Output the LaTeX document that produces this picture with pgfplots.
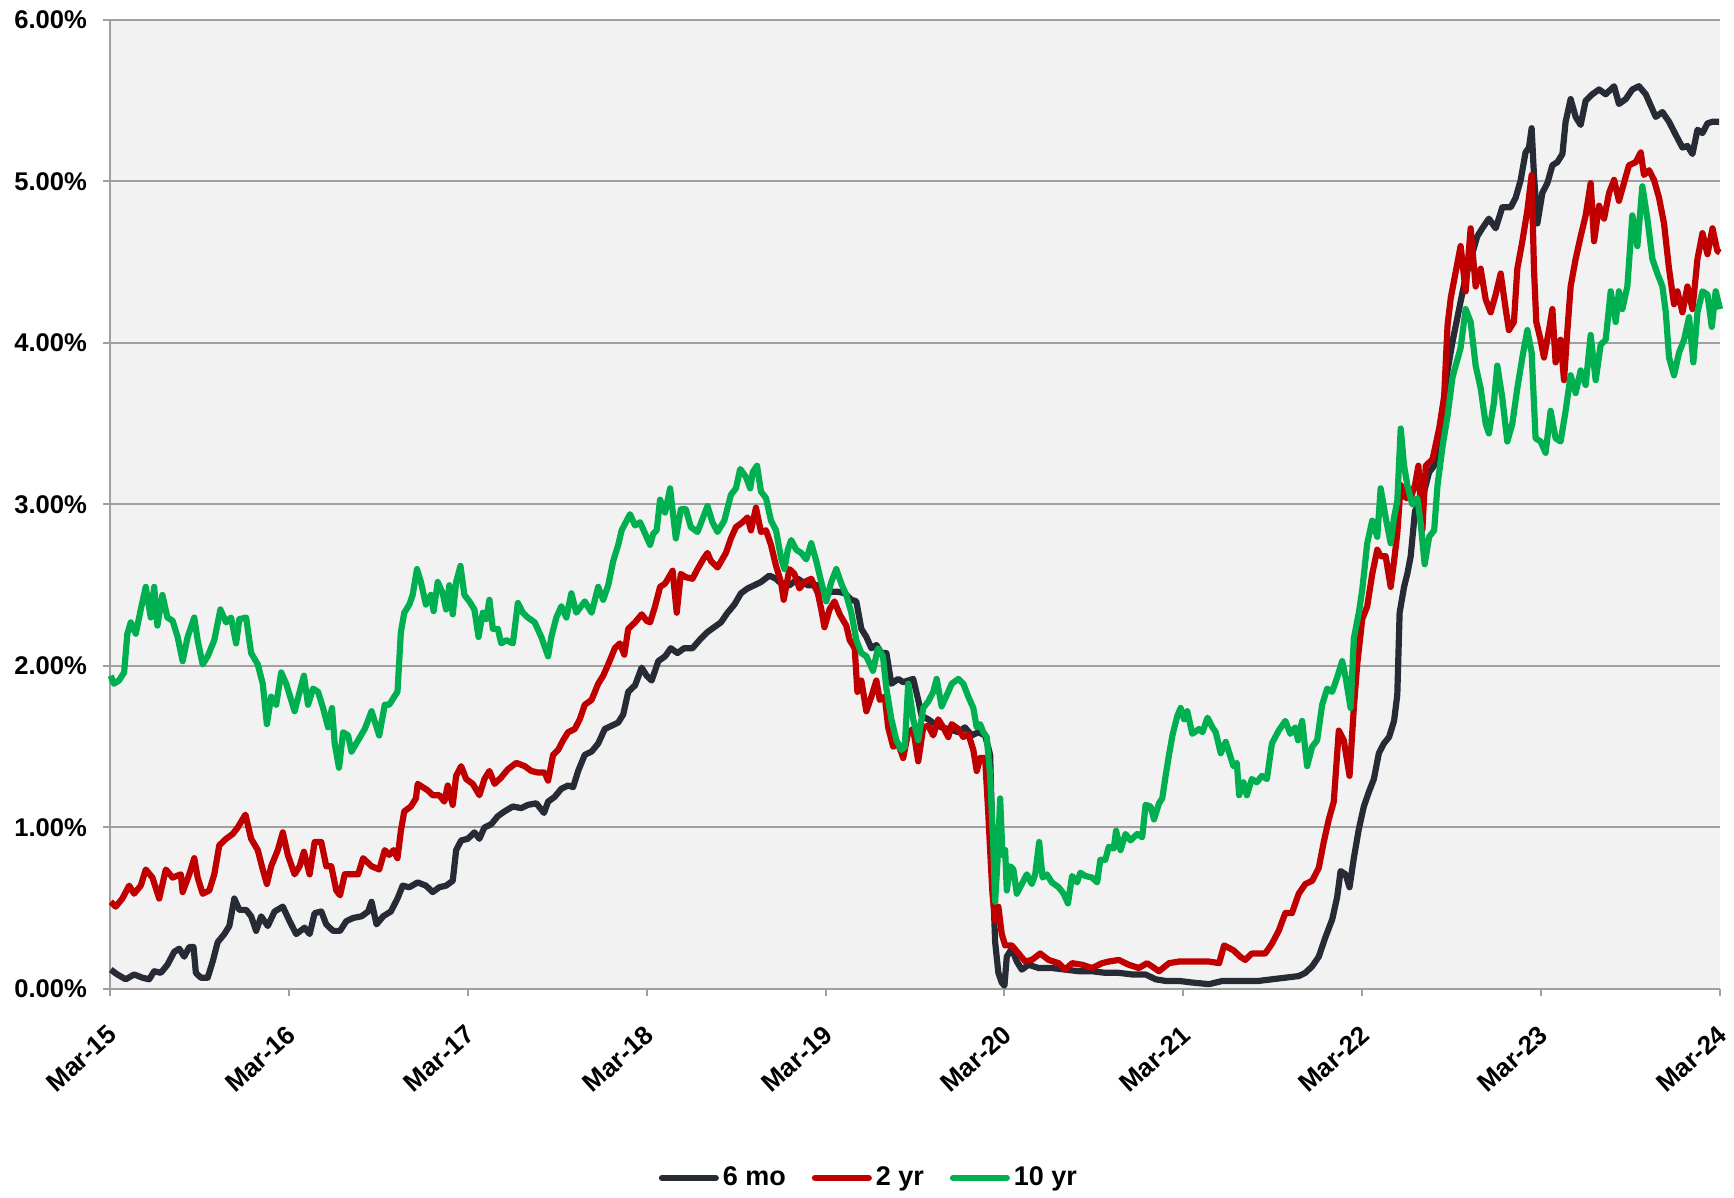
\documentclass[border=0pt]{standalone}
\usepackage{fontspec}
\setmainfont{Liberation Sans}
\usepackage{pgfplots}
\pgfplotsset{compat=1.18}

\definecolor{sixmo}{RGB}{38,43,54}
\definecolor{twoyr}{RGB}{192,0,0}
\definecolor{tenyr}{RGB}{0,176,80}
\definecolor{plotbg}{RGB}{242,242,242}
\definecolor{gridc}{RGB}{160,160,160}

\begin{document}
\begin{tikzpicture}
\begin{axis}[
    name=ax,
    scale only axis,
    width=805pt, height=484.5pt,
    xmin=0, xmax=9, ymin=0, ymax=6,
    axis background/.style={fill=plotbg},
    axis x line*=bottom, axis y line*=left,
    axis line style={draw=gridc, line width=1pt, -},
    xtick={0,...,9},
    xticklabels={Mar-15,Mar-16,Mar-17,Mar-18,Mar-19,Mar-20,Mar-21,Mar-22,Mar-23,Mar-24},
    ytick={0,...,6},
    yticklabels={0.00\%,1.00\%,2.00\%,3.00\%,4.00\%,5.00\%,6.00\%},
    tick align=outside,
    major tick length=3.5pt,
    tick style={draw=gridc, line width=1pt},
    ymajorgrids,
    grid style={draw=gridc, line width=1pt},
    y tick label style={font=\fontsize{12.8}{15}\selectfont\bfseries, xshift=-4.5pt},
    x tick label style={font=\fontsize{13}{15}\selectfont\bfseries, overlay,
        rotate=42, anchor=north east, inner sep=1pt, xshift=-9.5pt, yshift=-8pt},
    clip=false,
    legend style={at={(0.472,-0.195)}, anchor=center, draw=none, fill=none,
        legend columns=3, font=\fontsize{13.5}{16}\selectfont\bfseries,
        /tikz/every even column/.append style={column sep=11pt}},
    legend image code/.code={\draw[#1, line width=3pt, line cap=round] (0pt,0pt) -- (27pt,0pt);},
    every axis plot/.append style={line width=3.1pt, line join=round},
]

% 6 mo
\addplot[sixmo] coordinates {
(0.004,0.12)(0.041,0.09)(0.088,0.06)(0.135,0.09)(0.181,0.07)(0.219,0.06)(0.247,0.11)(0.284,0.10)
(0.321,0.15)(0.359,0.23)(0.387,0.25)(0.415,0.20)(0.443,0.26)(0.467,0.26)(0.480,0.10)(0.508,0.07)
(0.546,0.07)(0.574,0.17)(0.602,0.29)(0.639,0.34)(0.667,0.39)(0.695,0.56)(0.723,0.49)(0.761,0.49)
(0.789,0.45)(0.817,0.36)(0.845,0.45)(0.882,0.39)(0.920,0.48)(0.966,0.51)(1.004,0.42)(1.041,0.34)
(1.088,0.38)(1.116,0.34)(1.144,0.47)(1.181,0.48)(1.209,0.40)(1.247,0.36)(1.286,0.36)(1.321,0.42)
(1.359,0.44)(1.406,0.45)(1.443,0.48)(1.462,0.54)(1.490,0.40)(1.527,0.45)
(1.570,0.48)(1.607,0.56)(1.636,0.64)(1.673,0.63)(1.720,0.66)(1.766,0.64)(1.804,0.60)(1.841,0.63)
(1.879,0.64)(1.916,0.67)(1.935,0.86)(1.963,0.92)(2.000,0.93)(2.037,0.97)(2.065,0.93)(2.093,1.00)
(2.131,1.02)(2.168,1.07)(2.206,1.10)(2.252,1.13)(2.299,1.12)(2.336,1.14)(2.383,1.15)(2.426,1.09)
(2.449,1.16)(2.486,1.19)(2.523,1.24)(2.561,1.26)(2.589,1.25)(2.617,1.35)(2.654,1.45)(2.692,1.47)
(2.729,1.52)(2.766,1.61)(2.804,1.63)(2.841,1.65)(2.869,1.70)(2.897,1.84)(2.935,1.88)(2.972,1.99)
(3.000,1.94)(3.028,1.91)(3.065,2.03)(3.103,2.06)
(3.135,2.11)(3.172,2.08)(3.209,2.11)(3.256,2.11)(3.303,2.17)(3.340,2.21)(3.377,2.24)(3.415,2.27)
(3.452,2.33)(3.490,2.38)(3.527,2.45)(3.564,2.48)(3.602,2.50)(3.639,2.52)(3.686,2.56)(3.723,2.54)
(3.761,2.50)(3.798,2.50)(3.845,2.54)(3.901,2.50)(3.957,2.50)(3.994,2.44)(4.032,2.46)(4.069,2.46)
(4.107,2.45)(4.144,2.41)(4.172,2.40)(4.200,2.23)(4.228,2.18)(4.256,2.11)(4.284,2.13)(4.312,2.08)
(4.340,2.08)(4.368,1.89)(4.406,1.92)(4.434,1.90)(4.462,1.91)(4.490,1.92)(4.518,1.79)(4.537,1.69)
(4.574,1.67)(4.611,1.64)(4.649,1.62)(4.686,1.61)
(4.742,1.59)(4.779,1.62)(4.817,1.57)(4.854,1.59)(4.892,1.57)(4.920,1.45)(4.929,1.08)(4.938,0.59)
(4.948,0.29)(4.966,0.10)(4.985,0.04)(5.000,0.02)(5.013,0.20)(5.041,0.25)(5.069,0.17)(5.097,0.12)
(5.135,0.15)(5.191,0.13)(5.265,0.13)(5.340,0.12)(5.415,0.11)(5.490,0.11)(5.564,0.10)(5.639,0.10)
(5.714,0.09)(5.789,0.09)(5.845,0.06)(5.901,0.05)(5.976,0.05)(6.050,0.04)(6.144,0.03)(6.219,0.05)
(6.280,0.05)(6.327,0.05)(6.421,0.05)(6.495,0.06)(6.570,0.07)(6.645,0.08)(6.682,0.10)(6.720,0.14)
(6.757,0.20)(6.794,0.32)(6.832,0.43)(6.860,0.57)(6.879,0.73)(6.907,0.71)(6.929,0.63)(6.953,0.81)
(6.981,0.99)(7.009,1.13)(7.037,1.22)(7.065,1.30)(7.093,1.46)(7.121,1.52)(7.150,1.56)(7.178,1.66)
(7.196,1.82)(7.209,2.33)(7.234,2.49)(7.252,2.57)(7.271,2.68)(7.295,2.96)(7.318,3.00)(7.346,3.08)
(7.374,3.20)(7.402,3.24)(7.430,3.43)(7.458,3.59)(7.477,3.83)(7.505,4.01)
(7.578,4.41)(7.643,4.66)(7.671,4.71)(7.708,4.77)(7.746,4.71)(7.783,4.84)(7.830,4.84)(7.858,4.90)
(7.886,5.01)(7.913,5.18)(7.932,5.21)(7.947,5.33)(7.960,5.04)(7.979,4.74)(8.007,4.93)(8.035,4.99)
(8.063,5.10)(8.091,5.12)(8.119,5.17)(8.137,5.37)(8.165,5.51)(8.193,5.40)(8.221,5.35)(8.249,5.50)
(8.286,5.54)(8.324,5.57)(8.361,5.54)(8.408,5.59)(8.435,5.48)(8.473,5.51)(8.510,5.57)(8.547,5.59)
(8.585,5.54)(8.613,5.47)(8.641,5.40)(8.678,5.43)(8.715,5.37)(8.752,5.29)(8.790,5.21)(8.818,5.22)
(8.846,5.17)(8.874,5.32)(8.902,5.30)(8.930,5.36)(8.958,5.37)(8.995,5.37)
};
\addlegendentry{6 mo}

% 2 yr
\addplot[twoyr] coordinates {
(0.004,0.54)(0.032,0.51)(0.069,0.56)(0.107,0.64)(0.135,0.59)(0.172,0.64)(0.200,0.74)(0.237,0.69)
(0.275,0.56)(0.312,0.74)(0.350,0.69)(0.396,0.71)(0.406,0.60)(0.443,0.71)(0.471,0.81)(0.490,0.69)
(0.518,0.59)(0.555,0.61)(0.583,0.71)(0.611,0.89)(0.649,0.93)(0.686,0.96)(0.714,1.00)(0.757,1.08)
(0.789,0.93)(0.826,0.86)(0.854,0.74)(0.877,0.65)(0.901,0.76)(0.938,0.86)(0.966,0.97)(0.994,0.83)
(1.032,0.71)(1.060,0.76)(1.084,0.85)(1.116,0.71)(1.144,0.91)(1.181,0.91)(1.209,0.76)(1.237,0.76)
(1.265,0.61)(1.286,0.58)(1.312,0.71)(1.350,0.71)(1.387,0.71)(1.415,0.81)(1.462,0.76)(1.505,0.74)
(1.536,0.86)
(1.561,0.83)(1.585,0.86)(1.607,0.81)(1.626,0.98)(1.645,1.10)(1.682,1.13)(1.710,1.18)(1.720,1.27)
(1.748,1.25)(1.776,1.23)(1.804,1.20)(1.841,1.20)(1.869,1.16)(1.888,1.26)(1.916,1.14)(1.935,1.32)
(1.963,1.38)(1.991,1.30)(2.028,1.27)(2.065,1.20)(2.093,1.30)(2.121,1.35)(2.150,1.27)(2.187,1.31)
(2.224,1.36)(2.271,1.40)(2.318,1.38)(2.355,1.35)(2.393,1.34)(2.430,1.34)(2.449,1.29)(2.477,1.45)
(2.505,1.48)(2.533,1.54)(2.561,1.59)(2.598,1.61)(2.626,1.67)(2.654,1.76)(2.692,1.79)(2.729,1.89)
(2.757,1.94)(2.785,2.01)(2.822,2.11)(2.850,2.14)(2.875,2.07)(2.897,2.23)(2.935,2.27)(2.972,2.32)
(3.000,2.28)(3.019,2.27)(3.047,2.37)(3.075,2.49)(3.103,2.51)
(3.135,2.57)(3.145,2.59)(3.168,2.33)(3.191,2.57)(3.219,2.55)(3.256,2.54)(3.284,2.60)(3.321,2.67)
(3.340,2.70)(3.359,2.65)(3.396,2.61)(3.443,2.70)(3.471,2.79)(3.499,2.86)(3.536,2.89)(3.564,2.92)
(3.583,2.84)(3.611,2.98)(3.639,2.83)(3.667,2.84)(3.695,2.75)(3.723,2.62)(3.751,2.52)(3.766,2.41)
(3.798,2.60)(3.826,2.57)(3.854,2.48)(3.882,2.52)(3.920,2.54)(3.957,2.45)(3.976,2.35)(3.994,2.24)
(4.022,2.35)(4.050,2.40)(4.079,2.32)(4.116,2.25)(4.135,2.16)(4.163,2.11)(4.178,1.84)(4.200,1.91)
(4.228,1.72)(4.256,1.81)(4.284,1.91)(4.303,1.79)(4.331,1.81)(4.350,1.62)(4.378,1.50)(4.406,1.52)
(4.434,1.43)(4.462,1.59)(4.490,1.61)(4.518,1.41)(4.546,1.62)(4.574,1.63)(4.602,1.57)(4.630,1.67)
(4.658,1.62)(4.686,1.56)
(4.705,1.64)(4.742,1.61)(4.770,1.56)(4.798,1.58)(4.826,1.48)(4.845,1.35)(4.864,1.43)(4.892,1.43)
(4.910,1.08)(4.920,0.86)(4.933,0.59)(4.948,0.42)(4.966,0.51)(4.985,0.34)(5.004,0.27)(5.041,0.27)
(5.079,0.22)(5.116,0.17)(5.153,0.18)(5.200,0.22)(5.247,0.18)(5.303,0.16)(5.340,0.12)(5.378,0.16)
(5.434,0.15)(5.490,0.13)(5.546,0.16)(5.583,0.17)(5.639,0.18)(5.695,0.15)(5.751,0.13)(5.798,0.16)
(5.864,0.11)(5.920,0.16)(5.976,0.17)(6.032,0.17)(6.088,0.17)(6.144,0.17)(6.200,0.16)(6.228,0.27)
(6.280,0.24)(6.318,0.20)(6.346,0.18)(6.383,0.22)(6.421,0.22)(6.458,0.22)(6.495,0.28)(6.533,0.36)
(6.570,0.47)(6.607,0.47)(6.645,0.59)(6.682,0.65)(6.720,0.67)(6.757,0.75)(6.785,0.91)(6.813,1.05)
(6.841,1.16)(6.869,1.60)(6.897,1.54)(6.929,1.32)(6.953,1.74)(6.972,2.01)(7.000,2.29)(7.028,2.37)
(7.056,2.57)(7.084,2.72)(7.103,2.68)(7.131,2.68)(7.159,2.49)(7.178,2.65)(7.196,2.82)(7.215,3.12)
(7.243,3.04)(7.271,3.04)(7.295,3.12)(7.314,3.24)(7.336,2.84)(7.355,3.24)(7.393,3.28)(7.430,3.47)
(7.458,3.67)(7.477,4.11)(7.495,4.28)
(7.550,4.60)(7.578,4.32)(7.606,4.71)(7.634,4.35)(7.662,4.46)(7.690,4.27)(7.718,4.19)(7.746,4.30)
(7.774,4.43)(7.802,4.21)(7.820,4.08)(7.848,4.13)(7.867,4.46)(7.895,4.63)(7.923,4.82)(7.947,5.04)
(7.960,4.46)(7.973,4.13)(7.997,4.02)(8.016,3.91)(8.044,4.08)(8.063,4.21)(8.081,3.88)(8.109,4.02)
(8.128,3.77)(8.147,4.08)(8.165,4.35)(8.193,4.52)(8.221,4.66)(8.249,4.79)(8.277,4.99)(8.296,4.63)
(8.324,4.85)(8.352,4.77)(8.380,4.93)(8.408,5.01)(8.435,4.88)(8.463,4.99)(8.491,5.10)(8.529,5.12)
(8.557,5.18)(8.575,5.04)(8.603,5.07)(8.631,5.01)(8.659,4.90)(8.687,4.74)(8.715,4.46)(8.743,4.24)
(8.762,4.32)(8.790,4.19)(8.818,4.35)(8.846,4.21)(8.874,4.52)(8.902,4.68)(8.930,4.55)(8.958,4.71)
(8.985,4.57)(9.000,4.56)
};
\addlegendentry{2 yr}

% 10 yr
\addplot[tenyr] coordinates {
(0.004,1.94)(0.022,1.89)(0.050,1.91)(0.079,1.96)(0.097,2.20)(0.116,2.27)(0.144,2.20)(0.172,2.35)
(0.200,2.49)(0.228,2.30)(0.247,2.49)(0.265,2.25)(0.293,2.44)(0.321,2.30)(0.350,2.28)(0.378,2.18)
(0.406,2.03)(0.434,2.18)(0.471,2.30)(0.490,2.16)(0.518,2.01)(0.546,2.06)(0.583,2.16)(0.617,2.35)
(0.649,2.27)(0.677,2.30)(0.705,2.14)(0.723,2.29)(0.761,2.30)(0.789,2.08)(0.826,2.01)(0.854,1.89)
(0.877,1.64)(0.901,1.81)(0.929,1.76)(0.957,1.96)(0.985,1.89)(1.032,1.72)(1.060,1.84)(1.084,1.94)
(1.107,1.76)(1.135,1.86)(1.163,1.84)(1.191,1.74)(1.219,1.62)(1.241,1.74)(1.256,1.52)(1.280,1.37)
(1.303,1.59)(1.331,1.57)(1.350,1.47)(1.387,1.54)(1.424,1.61)(1.462,1.72)(1.505,1.57)(1.536,1.76)
(1.561,1.76)(1.589,1.81)(1.607,1.84)(1.626,2.21)(1.645,2.33)(1.673,2.38)(1.692,2.44)(1.716,2.60)
(1.738,2.52)(1.766,2.38)(1.794,2.44)(1.809,2.34)(1.832,2.52)(1.860,2.45)(1.879,2.35)(1.897,2.50)
(1.916,2.32)(1.935,2.52)(1.959,2.62)(1.981,2.44)(2.009,2.40)(2.037,2.35)(2.060,2.18)(2.084,2.33)
(2.103,2.29)(2.121,2.41)(2.140,2.23)(2.168,2.23)(2.187,2.14)(2.215,2.16)(2.252,2.14)(2.280,2.39)
(2.308,2.33)(2.336,2.30)(2.374,2.27)(2.411,2.18)(2.449,2.06)(2.467,2.18)(2.495,2.30)(2.523,2.37)
(2.551,2.30)(2.579,2.45)(2.607,2.33)(2.654,2.40)(2.692,2.33)(2.729,2.49)(2.757,2.41)(2.785,2.50)
(2.813,2.65)(2.841,2.75)(2.860,2.84)(2.907,2.94)(2.935,2.87)(2.963,2.89)(2.991,2.82)(3.019,2.75)
(3.037,2.82)(3.056,2.84)(3.075,3.03)(3.103,2.95)
(3.131,3.10)(3.163,2.79)(3.191,2.97)(3.219,2.97)(3.247,2.86)(3.284,2.83)(3.340,2.99)(3.368,2.89)
(3.396,2.83)(3.434,2.90)(3.471,3.06)(3.499,3.10)(3.523,3.22)(3.555,3.17)(3.579,3.10)(3.593,3.20)
(3.617,3.24)(3.639,3.08)(3.667,3.04)(3.695,2.90)(3.723,2.84)(3.751,2.67)(3.770,2.60)(3.789,2.72)
(3.808,2.78)(3.836,2.72)(3.864,2.70)(3.892,2.66)(3.920,2.76)(3.948,2.65)(3.976,2.52)(4.004,2.40)
(4.032,2.52)(4.060,2.60)(4.088,2.51)(4.116,2.44)(4.144,2.33)(4.172,2.16)(4.200,2.08)(4.228,2.06)
(4.265,1.97)(4.293,2.11)(4.321,2.06)(4.340,1.86)(4.368,1.67)(4.396,1.54)(4.424,1.48)(4.443,1.50)
(4.462,1.89)(4.490,1.67)(4.518,1.54)(4.546,1.74)(4.574,1.78)(4.602,1.84)(4.621,1.92)(4.649,1.75)
(4.686,1.84)
(4.705,1.89)(4.742,1.92)(4.770,1.89)(4.798,1.81)(4.826,1.74)(4.845,1.62)(4.864,1.64)(4.882,1.59)
(4.901,1.56)(4.920,1.32)(4.938,0.88)(4.948,0.54)(4.963,0.83)(4.976,1.18)(4.989,0.83)(5.004,0.86)
(5.013,0.61)(5.032,0.76)(5.050,0.74)(5.069,0.59)(5.097,0.65)(5.125,0.71)(5.153,0.65)(5.172,0.71)
(5.194,0.91)(5.213,0.69)(5.237,0.71)(5.265,0.66)(5.303,0.63)(5.331,0.59)(5.355,0.53)(5.378,0.70)
(5.406,0.66)(5.424,0.72)(5.452,0.70)(5.490,0.69)(5.518,0.66)(5.536,0.80)(5.564,0.80)(5.583,0.88)
(5.611,0.87)(5.624,0.98)(5.649,0.86)(5.677,0.96)(5.705,0.92)(5.742,0.96)(5.770,0.94)(5.789,1.14)
(5.817,1.13)(5.836,1.05)(5.864,1.15)(5.882,1.18)(5.901,1.32)(5.920,1.45)(5.939,1.57)(5.966,1.69)
(5.985,1.74)(6.004,1.67)(6.022,1.72)(6.050,1.58)(6.088,1.61)(6.107,1.59)(6.135,1.68)(6.163,1.62)
(6.181,1.59)(6.209,1.46)(6.237,1.53)
(6.280,1.38)(6.299,1.40)(6.312,1.20)(6.336,1.28)(6.355,1.20)(6.383,1.30)(6.411,1.28)(6.439,1.32)
(6.467,1.30)(6.495,1.52)(6.533,1.60)(6.570,1.66)(6.598,1.58)(6.626,1.62)(6.641,1.54)(6.664,1.66)
(6.692,1.38)(6.720,1.50)(6.748,1.54)(6.776,1.76)(6.804,1.86)(6.832,1.84)(6.860,1.93)(6.888,2.03)
(6.907,1.93)(6.935,1.74)(6.953,2.17)(6.981,2.33)(7.000,2.47)(7.028,2.76)(7.056,2.90)(7.084,2.80)
(7.103,3.10)(7.131,2.92)(7.159,2.76)(7.178,2.92)(7.196,3.02)(7.215,3.47)(7.234,3.24)(7.252,3.12)
(7.280,3.00)(7.308,3.04)(7.327,2.88)(7.349,2.63)(7.374,2.80)(7.402,2.84)(7.421,3.12)(7.449,3.36)
(7.477,3.55)(7.505,3.79)
(7.550,3.97)(7.578,4.21)(7.606,4.13)(7.634,3.86)(7.662,3.72)(7.690,3.50)(7.708,3.44)(7.736,3.63)
(7.755,3.86)(7.783,3.66)(7.811,3.39)(7.839,3.50)(7.867,3.72)(7.895,3.91)(7.923,4.08)(7.947,3.94)
(7.969,3.41)(7.997,3.39)(8.025,3.32)(8.053,3.58)(8.081,3.41)(8.109,3.39)(8.137,3.58)(8.165,3.80)
(8.193,3.69)(8.221,3.83)(8.249,3.74)(8.277,4.05)(8.305,3.77)(8.333,3.99)(8.361,4.02)(8.389,4.32)
(8.417,4.13)(8.435,4.32)(8.454,4.21)(8.482,4.35)(8.510,4.79)(8.538,4.60)(8.566,4.97)(8.594,4.77)
(8.622,4.52)(8.650,4.43)(8.678,4.35)(8.697,4.19)(8.715,3.91)(8.743,3.80)(8.771,3.94)(8.799,4.02)
(8.827,4.16)(8.851,3.88)(8.874,4.19)(8.902,4.32)(8.930,4.30)(8.954,4.10)(8.976,4.32)(9.000,4.21)
};
\addlegendentry{10 yr}
\end{axis}
% fix the page to the reference's frame
\path ([shift={(-55pt,-104.5pt)}]ax.south west) rectangle ([shift={(7pt,10pt)}]ax.north east);
\end{tikzpicture}
\end{document}
